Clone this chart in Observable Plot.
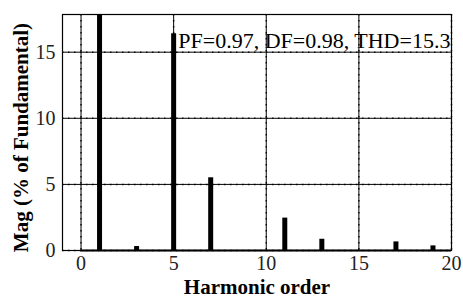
<!DOCTYPE html>
<html>
<head>
<meta charset="utf-8">
<script src="https://cdn.jsdelivr.net/npm/d3@7"></script>
<script src="https://cdn.jsdelivr.net/npm/@observablehq/plot@0.6"></script>
<style>
  html, body { margin: 0; padding: 0; background: #fff; }
  #chart { width: 463px; height: 298px; }
</style>
</head>
<body>
<div id="chart"></div>
<script>
const harmonics = [1, 3, 5, 7, 11, 13, 17, 19];
const magnitudes = [100, 0.3, 16.4, 5.5, 2.45, 0.85, 0.65, 0.35];
const xTicks = [0, 5, 10, 15, 20];
const yTicks = [0, 5, 10, 15];
const annotation = ["PF=0.97, DF=0.98, THD=15.3"];
const xLabel = "Harmonic order";
const yLabel = "Mag (% of Fundamental)";

const data = harmonics.map((h, i) => ({h, m: magnitudes[i]}));

const chart = Plot.plot({
  width: 463,
  height: 298,
  marginLeft: 62,
  marginRight: 12,
  marginTop: 14,
  marginBottom: 48,
  style: {fontFamily: "'Liberation Serif', serif", fontSize: "20px", background: "#fff", color: "#000"},
  x: {domain: [-1, 20]},
  y: {domain: [0, 17.85]},
  marks: [
    Plot.ruleX(xTicks, {x: d => d, stroke: "#222", strokeWidth: 1.5, strokeDasharray: "1.5,4.5"}),
    Plot.ruleY(yTicks, {y: d => d, stroke: "#222", strokeWidth: 1.5, strokeDasharray: "1.5,4.5"}),
    Plot.axisX(xTicks, {tickSize: 0, tickPadding: 5, label: null, fontSize: 20, fill: "#222"}),
    Plot.axisY(yTicks, {tickSize: 0, tickPadding: 7, label: null, fontSize: 20, fill: "#222"}),
    Plot.tickX(xTicks, {x: d => d, y1: 0, y2: 0.3, stroke: "#000"}),
    Plot.tickY(yTicks, {y: d => d, x1: -1, x2: -0.8, stroke: "#000"}),
    Plot.ruleY([0], {x1: xTicks[0], x2: xTicks[xTicks.length - 1], stroke: "#000", strokeWidth: 2}),
    Plot.ruleX(data, {x: "h", y1: 0, y2: "m", stroke: "#000", strokeWidth: 5, clip: true}),
    Plot.frame({stroke: "#000", strokeWidth: 1.2}),
    Plot.text(annotation, {x: 5.25, y: 15.87, text: d => d, textAnchor: "start", lineAnchor: "middle", fontSize: 22, fill: "#000"}),
    Plot.text([xLabel], {frameAnchor: "bottom", dy: 37, text: d => d, textAnchor: "middle", lineAnchor: "middle", fontSize: 21, fontWeight: "bold", fill: "#000"}),
    Plot.text([yLabel], {frameAnchor: "left", dx: -41, dy: 5, rotate: -90, text: d => d, textAnchor: "middle", lineAnchor: "middle", fontSize: 21, fontWeight: "bold", fill: "#000"})
  ]
});
document.getElementById("chart").appendChild(chart);
</script>
</body>
</html>
